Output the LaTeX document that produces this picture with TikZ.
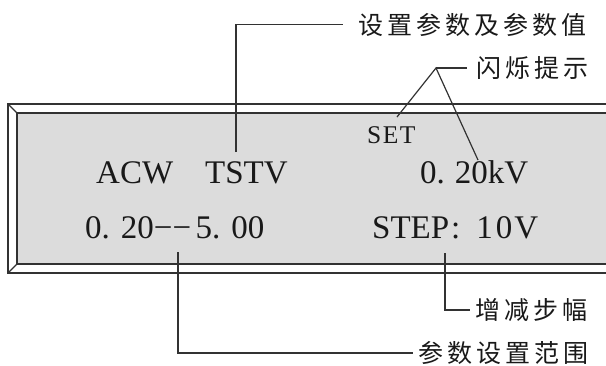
\documentclass[tikz,border=0pt]{standalone}
\usepackage{fontspec}
\setmainfont{Liberation Serif}
\newfontfamily\cjk[LetterSpace=16]{Noto Sans CJK SC}
\definecolor{panel}{RGB}{220,220,220}
\definecolor{linec}{RGB}{50,50,50}
\definecolor{txt}{RGB}{25,25,25}
\begin{document}
\begin{tikzpicture}[x=1pt,y=-1pt,
  frameline/.style={draw=linec,line width=1.1pt},
  leader/.style={draw=linec,line width=1.2pt},
  bigtext/.style={font=\fontsize{33}{36}\selectfont,text=txt,inner sep=0pt,anchor=base west},
  settext/.style={font=\fontsize{25.5}{28}\selectfont,text=txt,inner sep=0pt,anchor=base west},
  cjklabel/.style={font=\cjk\fontsize{25}{28}\selectfont,text=txt,inner ysep=0pt,anchor=west}]
\clip (0,0) rectangle (606,365);
% panel
\fill[panel] (17,113) rectangle (620,264);
\draw[frameline] (620,104) -- (8,104) -- (8,273) -- (620,273);
\draw[frameline] (620,113) -- (17,113) -- (17,264) -- (620,264);
\draw[frameline] (8,104) -- (17,113);
\draw[frameline] (8,273) -- (17,264);
% display texts
\node[bigtext] (acw) at (96,183) {ACW};
\node[bigtext] (tstv) at (205,183) {TSTV};
\node[bigtext] (kv) at (420,183) {0.\kern10pt 20kV};
\node[settext] (set) at (367,143) {S\kern1.5pt E\kern1.5pt T};
\node[bigtext] (range) at (85,238) {0.\kern11pt 20−−\kern4.5pt 5.\kern11pt 00};
\node[bigtext] (step) at (372,238) {STEP\kern2pt:\kern16pt 1\kern3pt 0\kern2pt V};
% labels
\node[cjklabel,inner xsep=15pt] (lbl1) at (343,24.5) {设置参数及参数值};
\node[cjklabel,inner xsep=9pt] (lbl2) at (467,68) {闪烁提示};
\node[cjklabel,inner xsep=5pt] (lbl3) at (470,310) {增减步幅};
\node[cjklabel,inner xsep=5pt] (lbl4) at (413,353) {参数设置范围};
% leader anchor points
\coordinate (ptstv) at (236,152);
\coordinate (apex) at (436,68);
\coordinate (pset) at (397,117);
\coordinate (pkv) at (478,160);
\coordinate (pstep) at (445,253);
\coordinate (prange) at (178,252);
% leaders
\draw[leader] (ptstv) |- (lbl1.west);
\draw[leader] (pset) -- (apex) -- (pkv);
\draw[leader] (apex) -- (lbl2.west);
\draw[leader] (pstep) |- (lbl3.west);
\draw[leader] (prange) |- (lbl4.west);
\end{tikzpicture}
\end{document}
